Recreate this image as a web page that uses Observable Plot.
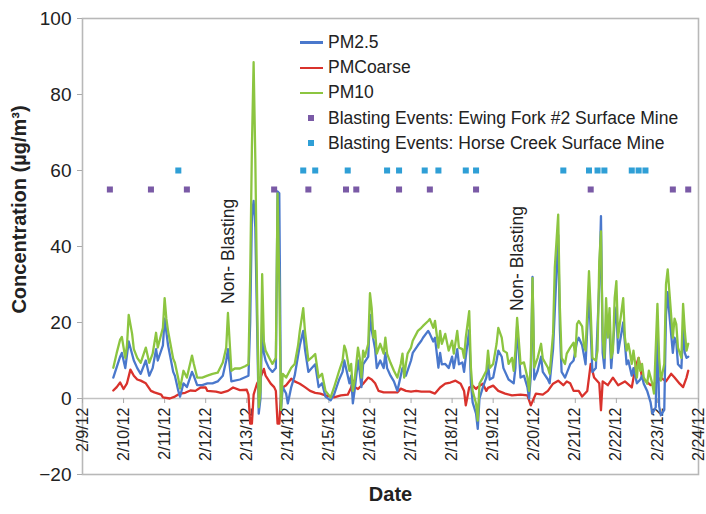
<!DOCTYPE html>
<html>
<head>
<meta charset="utf-8">
<script src="https://cdn.jsdelivr.net/npm/d3@7"></script>
<script src="https://cdn.jsdelivr.net/npm/@observablehq/plot@0.6"></script>
<style>
  html, body { margin: 0; padding: 0; background: #fff; }
  #wrap { position: relative; width: 706px; height: 514px; font-family: "Liberation Sans", Arial, sans-serif; }
  #legend { position: absolute; left: 299px; top: 30px; font-size: 17.5px; color: #222; }
  .row { height: 25.2px; display: flex; align-items: center; white-space: nowrap; }
  .sym { width: 24px; margin-right: 5px; display: flex; justify-content: center; align-items: center; }
  .ln { width: 23px; height: 2.5px; }
  .sq { width: 6px; height: 6px; }
</style>
</head>
<body>
<div id="wrap"></div>
<script>
// Hours since 2/9/12 00:00 and concentration (µg/m³)
const pm25 = [[18,5.5],[22,11],[23,12],[25,8],[27,15],[30,10],[32,8],[34,6.5],[37,10],[39,6],[41,8],[43,13],[44,10],[47,14],[48,21],[50,14],[53,7],[54,6],[56,2],[57,0.5],[59,4],[61,3],[64,7],[65,6],[67,3.5],[70,3.5],[73,4],[76,4],[79,4.5],[82,6],[84,10],[85,13],[87,4.5],[92,5],[97,6],[98,20],[99,48],[100,52],[101,45],[102,20],[103,-4],[104,0],[105,20],[106,12],[107,10],[109,8],[111,7],[113,8],[114,54.5],[115,54],[116,-3],[117,3],[119,1.3],[120,-1.3],[122,3],[124,6],[127,14],[129,17.8],[130,13],[132,7],[134,8],[136,9],[138,3],[140,4],[142,0.5],[145,-0.5],[147,1],[150,5],[152,7],[153,10],[156,4],[157,6],[158,-1.3],[159,2],[161,10],[162,7],[163,3],[164,9],[167,11],[168,22],[169,18],[171,13],[172,8],[174,10],[176,8],[177,12],[178,8],[180,6],[182,4.5],[184,2],[186,6],[187,8],[189,6],[192,10],[193,12],[196,14],[198,15.2],[199,16],[202,17.8],[203,17],[205,15],[206,16],[208,8.1],[209,12],[210,9],[212,9.1],[214,8],[216,11],[217,8],[219,13],[220,9],[222,9.5],[223,7],[224,11],[226,18],[227,4],[228,-1],[230,-4],[231,-8],[232,0],[234,3],[236,5.5],[237,9],[238,5],[240,5.5],[242,10],[243,12.6],[245,11],[246,8],[249,5],[252,4],[253,8],[254,19],[256,5.5],[258,6],[260,3],[261,0],[262,6],[263,32],[264,5],[266,7.3],[268,11],[269,7],[272,5],[273,4],[275,13],[276,23],[278,43],[279,18],[280,7],[282,5.5],[285,9],[287,10],[289,15],[290,16],[292,14],[294,9],[296,28],[297,18],[298,7],[300,8],[302,30],[303,48],[304,12],[305,8],[306,20],[308,18],[309,8],[311,20],[312,24],[313,12],[316,20],[318,9],[319,10],[321,6],[322,8],[324,4],[326,5],[327,6],[328,3.9],[330,2],[332,-1],[333,-4],[335,-2.3],[336,18],[337,-2],[338,-4.4],[340,-3],[341,22],[342,28],[343,22],[345,12],[346,16],[347,15],[348,9],[350,8],[351,18],[352,12],[353,10.7],[354,11]];

const pmCoarse = [[18,2.1],[20,3],[22,4.2],[24,2.5],[26,4],[28,7.6],[30,6],[32,5],[34,4.7],[37,4],[40,2],[42,1.6],[46,1],[47,0.3],[51,0],[54,0.5],[57,1.3],[60,1.5],[63,2.1],[66,2],[69,2.9],[72,2.9],[73,2],[78,1.8],[81,1.5],[85,2],[88,2.9],[92,2.2],[96,2.3],[97,1],[98,-6.6],[99,-6.6],[100,1],[101,2.5],[102,3.9],[104,5.5],[106,7.8],[107,6],[110,3.9],[112,3],[113,2],[114,-6.6],[115,-6.6],[116,1],[117,2.9],[119,3.5],[122,5.2],[124,4.5],[127,3.9],[130,3],[133,2],[136,1.5],[139,1.3],[142,0.8],[147,0.3],[151,0.8],[155,1],[157,2.9],[158,4.7],[159,3],[161,2.5],[164,3.9],[167,5.5],[169,5],[171,4],[173,2],[176,1.6],[180,1.6],[184,1.6],[186,2.6],[189,2],[192,1.8],[195,2],[198,1.8],[200,1.8],[203,1.8],[206,1.3],[209,2.9],[212,3.9],[215,4.2],[218,4.7],[221,3.9],[223,2],[224,-1.8],[226,2.9],[228,3.4],[230,2.5],[231,3],[234,3.9],[236,2],[237,2.8],[240,3.4],[243,2],[247,1.3],[251,0.8],[256,1],[260,0.8],[262,-1.8],[265,1.3],[269,1],[272,2],[275,3.9],[278,4.7],[281,3.5],[283,4.5],[285,4],[287,2],[290,2],[292,0.5],[295,2],[297,9.1],[299,5.5],[302,4],[303,-3.1],[304,4.5],[307,3.5],[310,5.5],[313,3.5],[317,4.5],[321,2.9],[323,8],[325,10.7],[327,5.5],[329,4.7],[332,3.5],[335,4],[338,5.5],[341,4.5],[344,6.5],[346,5.5],[349,3.9],[351,3],[353,5.5],[354,7.3]];

const pm10 = [[18,8.1],[20,12],[22,15.5],[23,16.2],[25,10.7],[26,14],[27,22],[29,17],[30,13],[32,10.7],[34,9.4],[37,13.4],[39,9.4],[41,11.8],[43,17.3],[44,13.4],[47,18.6],[48,26.4],[49,21],[50,17.8],[53,10.5],[54,9.4],[56,5.2],[57,2.6],[59,7.3],[61,5.5],[64,11.3],[65,9.2],[67,5.5],[70,5.5],[73,6],[76,6.5],[79,6.8],[82,9.5],[84,13.4],[85,22.5],[87,7.3],[89,7.9],[92,7.9],[95,8.5],[97,9],[98,32],[99,66],[100,88.5],[101,63],[102,28],[103,-2.3],[104,2],[105,32.7],[106,15],[107,12.6],[109,10.8],[111,9.1],[113,10.7],[114,54],[115,30],[116,-3],[117,6.5],[119,5.5],[122,8.1],[124,9.1],[126,14],[127,17.8],[129,23.8],[130,17.8],[132,10],[134,10.8],[136,11.7],[138,5.5],[140,6.5],[142,2],[145,0.3],[147,2.9],[150,7.3],[152,10],[153,13.9],[154,12.6],[156,7.3],[157,9.1],[158,2],[159,4.7],[161,13.4],[162,10.7],[163,5.5],[164,12.6],[165,11],[167,14.4],[168,27.7],[169,23.8],[170,16],[171,17.8],[172,11.8],[174,14.4],[176,11.8],[177,16],[178,11.8],[180,9.4],[182,7.3],[184,5.5],[186,9.1],[187,11.8],[188,5.5],[189,9.1],[190,11.8],[192,13.4],[193,15.2],[196,17.8],[198,18.6],[199,19.1],[202,20.4],[203,20.9],[205,18.6],[206,20.4],[208,13.4],[209,17.8],[210,14.4],[212,17],[214,12.6],[216,15.2],[217,11.8],[219,17.8],[220,13.4],[222,13],[223,10.7],[224,16],[226,23],[227,8.1],[228,2],[230,-1.3],[231,-5.8],[232,3.9],[234,5.5],[236,7.3],[237,12.6],[238,8],[240,9.1],[242,14.4],[243,18.6],[245,16],[246,12.6],[248,12],[249,9.1],[251,10.7],[252,7.3],[253,12.6],[254,21.2],[256,9.1],[258,9.5],[260,5.5],[261,2],[262,9.1],[263,31.7],[264,8.1],[266,10.7],[268,14.4],[269,10.5],[272,8.1],[273,6.5],[275,17],[276,34.3],[278,48.4],[279,23.8],[280,10.7],[282,9.1],[283,11.8],[285,13.4],[287,14.7],[288,11],[289,19.6],[290,20.4],[292,19],[293,14],[294,12.6],[296,33.5],[297,23],[298,10.7],[300,10],[301,12.6],[302,36],[303,44],[304,16],[305,10.7],[306,26.4],[307,16],[308,23.8],[309,10.7],[310,12.6],[311,26.4],[312,30.9],[313,16],[314,19.6],[316,26.4],[317,16],[318,12.6],[319,14.4],[320,12],[321,9.1],[322,12.6],[324,5.5],[325,10.7],[326,7.3],[327,9.1],[328,5.5],[330,3.9],[331,7.3],[333,3.9],[334,1.3],[336,24.9],[337,10.7],[338,4.7],[340,9.1],[341,30],[342,34],[343,28],[345,16],[346,21],[347,19.6],[348,13.4],[350,10.7],[351,24.9],[352,17.8],[353,12.6],[354,14.4]];

// Blasting events: hours since 2/9/12 00:00 (plotted at fixed marker levels)
const ewingForkHours = [16, 40, 61, 112, 132, 154, 160, 185, 203, 230, 297, 345, 354];
const ewingForkLevel = 55;
const horseCreekHours = [56, 129, 136, 155, 178, 185, 200, 208, 224, 230, 281, 296, 301, 305, 321, 325, 329];
const horseCreekLevel = 60;

const annotations = [[85.3, 24.9, "Non- Blasting"], [254.2, 23, "Non- Blasting"]];

const yTicks = [-20, 0, 20, 40, 60, 80, 100];
const seriesNames = ["PM2.5", "PMCoarse", "PM10", "Blasting Events: Ewing Fork #2 Surface Mine", "Blasting Events: Horse Creek Surface Mine"];
const seriesColors = ["#4a78cc", "#d9322c", "#8cc540", "#7a5aa6", "#2f9fd6"];
const yTitle = "Concentration (µg/m³)";
const xTitle = "Date";

const base = Date.UTC(2012, 1, 9);
const toDate = h => new Date(base + h * 3600e3);
const xStart = new Date(base);
const xEnd = new Date(Date.UTC(2012, 1, 24));
const dayTicks = d3.utcDay.range(xStart, new Date(+xEnd + 1));

const W = 706, H = 514, mT = 18, mB = 40, mL = 82, mR = 8;
const yDom = [-20, 100];
const zeroShift = -((0 - yDom[0]) / (yDom[1] - yDom[0])) * (H - mT - mB);

const line = (data, color) => Plot.line(data, {x: d => toDate(d[0]), y: d => d[1], stroke: color, strokeWidth: 2.3, strokeLinejoin: "round"});

const chart = Plot.plot({
  width: W, height: H,
  marginTop: mT, marginBottom: mB, marginLeft: mL, marginRight: mR,
  style: {fontFamily: "'Liberation Sans', Arial, sans-serif", background: "#fff", color: "#222", overflow: "visible"},
  x: {type: "utc", domain: [xStart, xEnd]},
  y: {domain: yDom},
  marks: [
    Plot.frame({stroke: "#b8b8b8", strokeWidth: 1.6}),
    Plot.ruleY([0], {stroke: "#c2c2c2", strokeWidth: 1.5}),
    Plot.axisY({ticks: yTicks, tickSize: 5, tickPadding: 6, fontSize: 19, label: null, stroke: "#aaa", fill: "#222"}),
    Plot.axisX({ticks: dayTicks, tickFormat: d3.utcFormat("%-m/%-d/%y"), tickRotate: -90, tickSize: 5, tickPadding: 4, fontSize: 16, label: null, dy: zeroShift, stroke: "#aaa", fill: "#222"}),
    line(pmCoarse, seriesColors[1]),
    line(pm25, seriesColors[0]),
    line(pm10, seriesColors[2]),
    Plot.dot(ewingForkHours, {x: d => toDate(d), y: () => ewingForkLevel, symbol: "square", r: 3.4, fill: seriesColors[3], stroke: null}),
    Plot.dot(horseCreekHours, {x: d => toDate(d), y: () => horseCreekLevel, symbol: "square", r: 3.4, fill: seriesColors[4], stroke: null}),
    Plot.text(annotations, {x: d => toDate(d[0]), y: d => d[1], text: d => d[2], rotate: -90, textAnchor: "start", fontSize: 17.5, fill: "#222"}),
    Plot.text([yTitle], {frameAnchor: "left", textAnchor: "middle", rotate: -90, dx: -63, dy: -37, fontSize: 20, fontWeight: "bold", fill: "#222"}),
    Plot.text([xTitle], {frameAnchor: "bottom", dy: 26, fontSize: 20, fontWeight: "bold", fill: "#222"})
  ]
});

const wrap = document.getElementById("wrap");
wrap.appendChild(chart);

const legend = document.createElement("div");
legend.id = "legend";
seriesNames.forEach((name, i) => {
  const row = document.createElement("div");
  row.className = "row";
  const sym = document.createElement("div");
  sym.className = "sym";
  const mark = document.createElement("div");
  mark.className = i < 3 ? "ln" : "sq";
  mark.style.background = seriesColors[i];
  sym.appendChild(mark);
  const label = document.createElement("span");
  label.textContent = name;
  row.appendChild(sym);
  row.appendChild(label);
  legend.appendChild(row);
});
wrap.appendChild(legend);
</script>
</body>
</html>
